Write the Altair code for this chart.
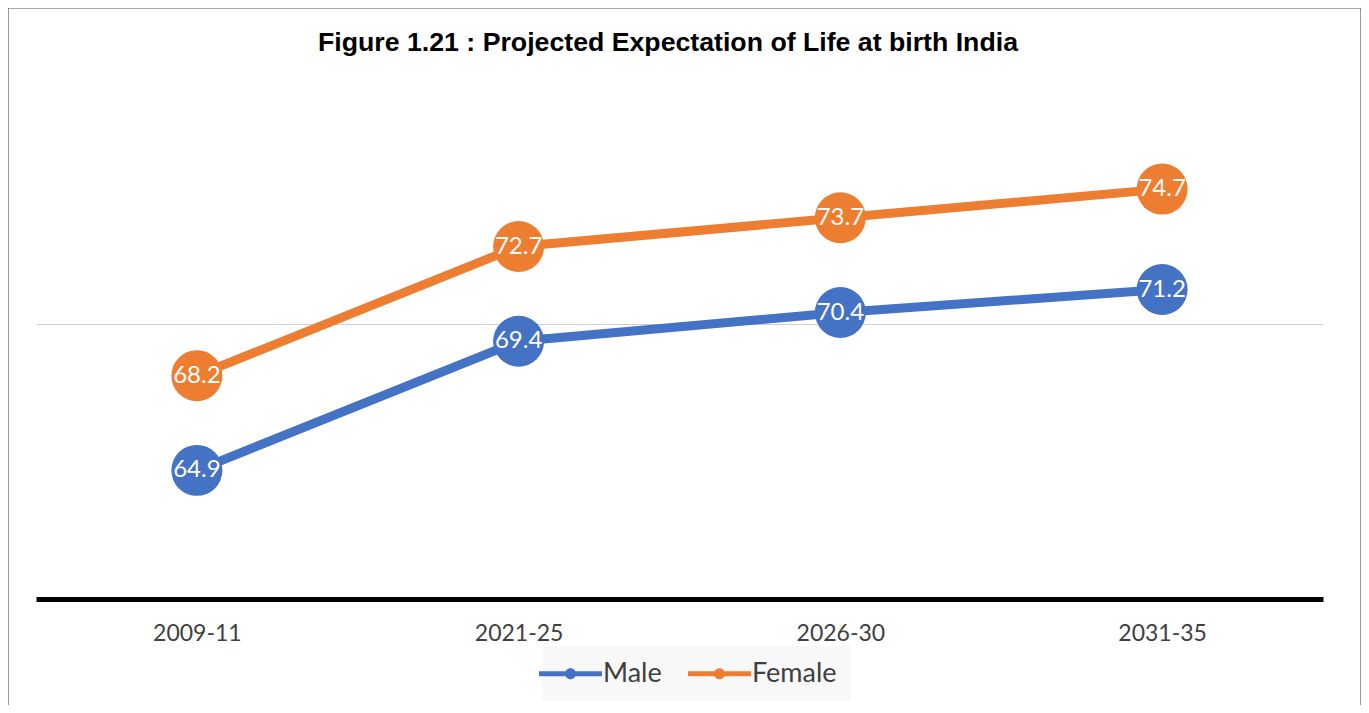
import altair as alt
import pandas as pd

periods = ["2009-11", "2021-25", "2026-30", "2031-35"]
male = [64.9, 69.4, 70.4, 71.2]
female = [68.2, 72.7, 73.7, 74.7]
series_names = ["Male", "Female"]
series_colors = ["#4472C4", "#ED7D31"]
title_text = "Figure 1.21 : Projected Expectation of Life at birth India"

rows = []
for name, vals in zip(series_names, [male, female]):
    for p, v in zip(periods, vals):
        rows.append({"period": p, "series": name, "value": v})
df = pd.DataFrame(rows)

W, H = 1287, 574

x_enc = alt.X(
    "period:N",
    sort=periods,
    scale=alt.Scale(type="point", padding=0.5),
    axis=alt.Axis(
        title=None,
        ticks=False,
        domainColor="black",
        domainWidth=5,
        offset=-12,
        labelFont="Lato",
        labelFontSize=23,
        labelColor="#404040",
        labelPadding=23,
        labelAngle=0,
        grid=False,
    ),
)
y_enc = alt.Y(
    "value:Q",
    scale=alt.Scale(domain=[60, 80], nice=False, zero=False),
    axis=alt.Axis(
        title=None,
        values=[70],
        labels=False,
        ticks=False,
        domain=False,
        grid=True,
        gridColor="#d0d0d0",
        gridWidth=1,
    ),
)

legend_path = (
    "M-3.15,-0.25 L3.15,-0.25 L3.15,0.25 L-3.15,0.25 Z "
    "M0.55,0 A0.55,0.55 0 1,1 -0.55,0 A0.55,0.55 0 1,1 0.55,0 Z"
)
legend = alt.Legend(
    title=None,
    orient="none",
    legendX=507,
    legendY=609,
    direction="horizontal",
    symbolType=legend_path,
    symbolSize=400,
    symbolStrokeWidth=0,
    symbolOpacity=1,
    labelFont="Lato",
    labelFontSize=27,
    labelColor="#404040",
    labelOffset=19,
    columnPadding=26,
    padding=14,
    fillColor="#f8f8f8",
)
color_enc = alt.Color(
    "series:N",
    sort=series_names,
    scale=alt.Scale(domain=series_names, range=series_colors),
    legend=legend,
)

frame = (
    alt.Chart(pd.DataFrame({"a": [0]}))
    .mark_rect(fill=None, stroke="#555555", strokeWidth=1.2)
    .encode(
        x=alt.value(-28),
        x2=alt.value(1325),
        y=alt.value(-29),
        y2=alt.value(720),
    )
)

title = (
    alt.Chart(pd.DataFrame({"t": [title_text]}))
    .mark_text(
        font="Liberation Sans",
        fontSize=26.7,
        fontWeight="bold",
        color="black",
        align="center",
        baseline="alphabetic",
    )
    .encode(text="t:N", x=alt.value(632), y=alt.value(14))
)

base = alt.Chart(df)

lines = base.mark_line(strokeWidth=9).encode(
    x=x_enc,
    y=y_enc,
    color=color_enc,
    detail="series:N",
)

points = base.mark_point(filled=True, size=2600, opacity=1, strokeWidth=0).encode(
    x=alt.X("period:N", sort=periods),
    y="value:Q",
    color=color_enc,
)

labels = base.mark_text(
    color="white", font="Lato", fontSize=24, align="center", baseline="middle"
).encode(
    x=alt.X("period:N", sort=periods),
    y="value:Q",
    text=alt.Text("value:Q", format=".1f"),
    detail="series:N",
)

chart = (
    alt.layer(frame, title, lines, points, labels)
    .properties(
        width=W,
        height=H,
        autosize=alt.AutoSizeParams(type="none"),
        padding={"left": 28, "top": 29, "right": 38, "bottom": 94},
    )
    .configure(background="white")
    .configure_view(stroke="transparent", strokeWidth=0)
)

chart.save("out.html", embed_options={"renderer": "svg", "actions": False})
